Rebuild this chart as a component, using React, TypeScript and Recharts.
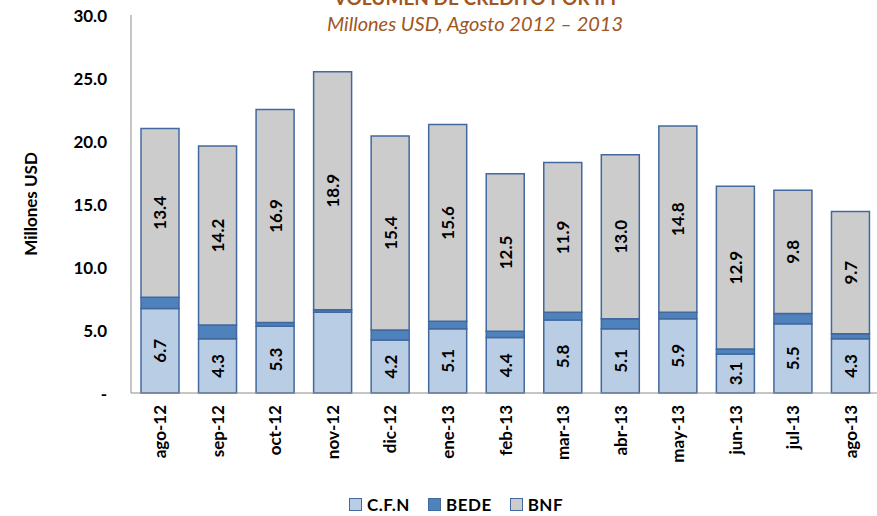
import React from "react";
import { BarChart, Bar, XAxis, YAxis, Legend, LabelList } from "recharts";

const categories = ["ago-12", "sep-12", "oct-12", "nov-12", "dic-12", "ene-13", "feb-13", "mar-13", "abr-13", "may-13", "jun-13", "jul-13", "ago-13"];
const cfn = [6.7, 4.3, 5.3, 6.4, 4.2, 5.1, 4.4, 5.8, 5.1, 5.9, 3.1, 5.5, 4.3];
const bede = [0.9, 1.1, 0.3, 0.2, 0.8, 0.6, 0.5, 0.6, 0.8, 0.5, 0.4, 0.8, 0.4];
const bnf = [13.4, 14.2, 16.9, 18.9, 15.4, 15.6, 12.5, 11.9, 13.0, 14.8, 12.9, 9.8, 9.7];
const yTicks = [0, 5, 10, 15, 20, 25, 30];
const cfnHiddenLabels = ["nov-12"];

const data = categories.map((c, i) => ({ cat: c, cfn: cfn[i], bede: bede[i], bnf: bnf[i] }));

const FONT = "Lato, 'Open Sans', sans-serif";
const STROKE = "#41699E";

const legendItems = [
  { name: "C.F.N", fill: "#B9CDE5" },
  { name: "BEDE", fill: "#4F81BD" },
  { name: "BNF", fill: "#CCCCCC" },
];

const XTick = (props: any) => {
  const { x, y, payload } = props;
  const ty = y + 4;
  return (
    <text x={x} y={ty} transform={`rotate(-90, ${x}, ${ty})`} textAnchor="end" dominantBaseline="central"
      fontFamily={FONT} fontWeight="bold" fontSize={17} fill="#000">
      {payload.value}
    </text>
  );
};

const YTick = (props: any) => {
  const { y, payload } = props;
  const v = payload.value === 0 ? "-" : Number(payload.value).toFixed(1);
  return (
    <text x={107} y={y} textAnchor="end" dominantBaseline="central" fontFamily={FONT} fontWeight="bold" fontSize={17} fill="#000">
      {v}
    </text>
  );
};

const makeLabel = (hidden: string[]) => (props: any) => {
  const { x, y, width, height, value, index } = props;
  if (hidden.includes(categories[index])) return null;
  const cx = x + width / 2;
  const cy = y + height / 2;
  return (
    <text x={cx} y={cy} transform={`rotate(-90, ${cx}, ${cy})`} textAnchor="middle" dominantBaseline="central"
      fontFamily={FONT} fontWeight="bold" fontSize={17} fill="#000">
      {Number(value).toFixed(1)}
    </text>
  );
};

const LegendContent = () => (
  <div style={{ display: "flex", justifyContent: "center", alignItems: "center", fontFamily: FONT, fontWeight: "bold", fontSize: 17, marginLeft: 50 }}>
    {legendItems.map((it) => (
      <div key={it.name} style={{ display: "flex", alignItems: "center", marginRight: 18 }}>
        <span style={{ display: "inline-block", width: 11, height: 11, background: it.fill, border: `1px solid ${STROKE}`, marginRight: 5 }} />
        <span style={{ letterSpacing: 0.5 }}>{it.name}</span>
      </div>
    ))}
  </div>
);

export default function App() {
  return (
    <div style={{ position: "absolute", left: 0, top: 0, width: 880, height: 516, background: "#fff", overflow: "hidden" }}>
      <BarChart width={880} height={516} data={data} margin={{ top: 15, right: 1, bottom: 0, left: 0 }} barSize={38}>
        <XAxis dataKey="cat" tick={<XTick />} tickLine={false} axisLine={{ stroke: "#8C8C8C" }} height={102} interval={0} />
        <YAxis domain={[0, 30]} ticks={yTicks} tick={<YTick />} tickLine={false} axisLine={{ stroke: "#8C8C8C" }} width={131} />
        <Legend verticalAlign="bottom" wrapperStyle={{ position: "absolute", top: 494, left: 0, width: 880 }} content={<LegendContent />} />
        <Bar dataKey="cfn" stackId="a" fill="#B9CDE5" stroke={STROKE} strokeWidth={1.5} isAnimationActive={false}>
          <LabelList dataKey="cfn" content={makeLabel(cfnHiddenLabels)} />
        </Bar>
        <Bar dataKey="bede" stackId="a" fill="#4F81BD" stroke={STROKE} strokeWidth={1.5} isAnimationActive={false} />
        <Bar dataKey="bnf" stackId="a" fill="#CCCCCC" stroke={STROKE} strokeWidth={1.5} isAnimationActive={false}>
          <LabelList dataKey="bnf" content={makeLabel([])} />
        </Bar>
      </BarChart>
      <div style={{ position: "absolute", left: 0, width: 950, top: -14, textAlign: "center", fontFamily: FONT, fontWeight: "bold", fontSize: 19, color: "#A0561E", whiteSpace: "nowrap" }}>
        VOLUMEN DE CRÉDITO POR IFI
      </div>
      <div style={{ position: "absolute", left: 0, width: 950, top: 11, textAlign: "center", fontFamily: FONT, fontStyle: "italic", fontSize: 20, color: "#A0561E", whiteSpace: "nowrap" }}>
        Millones USD, Agosto 2012 – 2013
      </div>
      <div style={{ position: "absolute", left: 30, top: 204, transform: "translate(-50%, -50%) rotate(-90deg)", fontFamily: FONT, fontWeight: "bold", fontSize: 17, whiteSpace: "nowrap" }}>
        Millones USD
      </div>
    </div>
  );
}
